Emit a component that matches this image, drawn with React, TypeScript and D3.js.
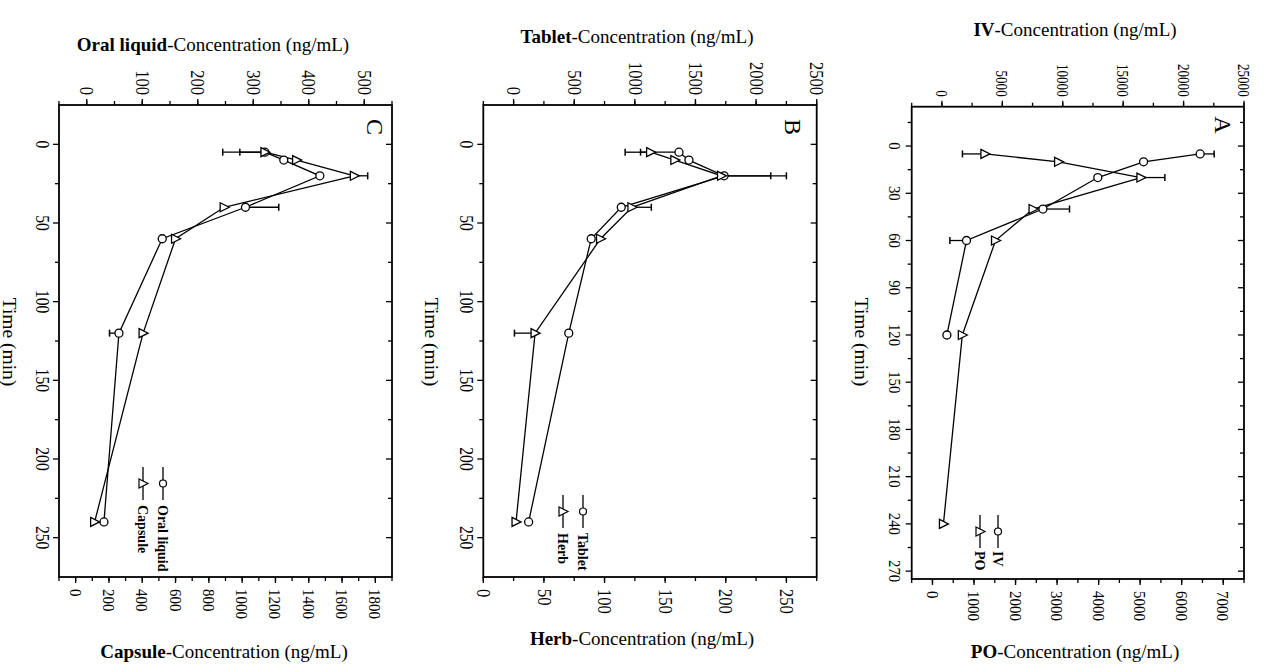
import React from 'react';
import * as d3 from 'd3';

// sampling times (min)
const times = [5, 10, 20, 40, 60, 120, 240];
const timesIV = [5, 10, 20, 40, 60, 120];

// panel C: oral liquid (top axis) vs capsule (bottom axis)
const oralLiquid = [321, 355, 420, 286, 136, 58, 31];
const oralLiquidErr = [-76, 0, 0, 60, 0, -17, 0];
const capsule = [1137, 1327, 1674, 892, 600, 405, 114];
const capsuleErr = [-151, 0, 80, 0, 0, 0, 0];

// panel B: tablet (top axis) vs herb (bottom axis)
const tablet = [1364, 1446, 1736, 888, 640, 455, 124];
const tabletErr = [-317, 0, 385, 0, 0, 0, 0];
const herb = [138, 158, 196.5, 122.6, 96.7, 42.7, 27];
const herbErr = [-21, 0, 53.5, 16, 0, -17, 0];

// panel A: IV (top axis) vs PO (bottom axis)
const iv = [21370, 16690, 12900, 8360, 2035, 412];
const ivErr = [1160, 0, 0, 2200, -1375, 0];
const po = [1262, 3036, 5019, 2422, 1518, 719, 264];
const poErr = [-540, 0, 576, 0, 0, 0, 0];

const FONT = '"Liberation Serif", "Times New Roman", serif';

const RotText = ({ x, y, children, anchor = 'middle', size = 17, sx = 1, weight = 'normal' }: any) => (
  <g transform={`translate(${x},${y}) rotate(90) scale(${sx},1)`}>
    <text textAnchor={anchor} dy=".35em" fontSize={size} fontWeight={weight}>{children}</text>
  </g>
);

const triPath = 'M-4,-4.5L5,0L-4,4.5Z';
const triUp = 'M-4.5,4L0,-5L4.5,4Z';

function Panel(p: any) {
  const { box, letter, yDomain, yMajor, yMinor, top, bot, series, legend, titles } = p;
  const y = d3.scaleLinear().domain(yDomain).range([box.y0, box.y1]);
  const xTop = d3.scaleLinear().domain(top.domain).range([box.x0, box.x1]);
  const xBot = d3.scaleLinear().domain(bot.domain).range([box.x0, box.x1]);
  const scaleOf = (s: any) => (s.axis === 'top' ? xTop : xBot);
  const yTicks = d3
    .range(Math.ceil(yDomain[0] / yMinor) * yMinor, yDomain[1] + 1e-9, yMinor)
    .filter((t) => t > yDomain[0] && t < yDomain[1]);

  return (
    <g>
      {/* top axis */}
      {d3.range(top.domain[0], top.domain[1] + 1e-9, top.minor).map((v) => (
        <line key={'tm' + v} x1={xTop(v)} x2={xTop(v)} y1={box.y0} y2={box.y0 - 4} stroke="#000" strokeWidth={1.3} />
      ))}
      {d3.range(0, top.domain[1] + 1e-9, top.major).map((v) => (
        <g key={'tM' + v}>
          <line x1={xTop(v)} x2={xTop(v)} y1={box.y0} y2={box.y0 - 6} stroke="#000" strokeWidth={1.3} />
          <RotText x={xTop(v)} y={box.y0 - 10} anchor="end" size={top.size} sx={top.sx}>{v}</RotText>
        </g>
      ))}
      {/* bottom axis */}
      {d3.range(bot.domain[0], bot.domain[1] + 1e-9, bot.minor).map((v) => (
        <line key={'bm' + v} x1={xBot(v)} x2={xBot(v)} y1={box.y1} y2={box.y1 + 4} stroke="#000" strokeWidth={1.3} />
      ))}
      {d3.range(0, bot.domain[1] + 1e-9, bot.major).map((v) => (
        <g key={'bM' + v}>
          <line x1={xBot(v)} x2={xBot(v)} y1={box.y1} y2={box.y1 + 6} stroke="#000" strokeWidth={1.3} />
          <RotText x={xBot(v)} y={box.y1 + 12} anchor="start" size={bot.size} sx={bot.sx}>{v}</RotText>
        </g>
      ))}
      {/* time axis: outward ticks on the left, inward on the right */}
      {yTicks.map((t) => {
        const major = Math.abs(t % yMajor) < 1e-9;
        const len = major ? 6 : 4;
        return (
          <g key={'y' + t}>
            <line x1={box.x0} x2={box.x0 - len} y1={y(t)} y2={y(t)} stroke="#000" strokeWidth={1.3} />
            <line x1={box.x1} x2={box.x1 - len} y1={y(t)} y2={y(t)} stroke="#000" strokeWidth={1.3} />
            {major && t >= 0 && (
              <RotText x={box.x0 - 17} y={y(t)} size={p.ySize} sx={p.ySx}>{t}</RotText>
            )}
          </g>
        );
      })}
      <rect x={box.x0} y={box.y0} width={box.x1 - box.x0} height={box.y1 - box.y0} fill="none" stroke="#000" strokeWidth={1.8} />

      {/* series */}
      {series.map((s: any, si: number) => {
        const xs = scaleOf(s);
        const pts = s.t.map((t: number, i: number) => [xs(s.v[i]), y(t)]);
        return (
          <g key={'s' + si}>
            <path d={d3.line()(pts as any) || ''} fill="none" stroke="#000" strokeWidth={1.3} />
            {s.t.map((t: number, i: number) =>
              s.err[i] !== 0 ? (
                <g key={'e' + i}>
                  <line x1={xs(s.v[i])} x2={xs(s.v[i] + s.err[i])} y1={y(t)} y2={y(t)} stroke="#000" strokeWidth={1.3} />
                  <line x1={xs(s.v[i] + s.err[i])} x2={xs(s.v[i] + s.err[i])} y1={y(t) - 3.5} y2={y(t) + 3.5} stroke="#000" strokeWidth={1.5} />
                </g>
              ) : null
            )}
          </g>
        );
      })}
      {series.map((s: any, si: number) => {
        const xs = scaleOf(s);
        return (
          <g key={'m' + si}>
            {s.t.map((t: number, i: number) =>
              s.shape === 'circle' ? (
                <circle key={i} cx={xs(s.v[i])} cy={y(t)} r={4} fill="#fff" stroke="#000" strokeWidth={1.3} />
              ) : (
                <path key={i} d={triPath} transform={`translate(${xs(s.v[i])},${y(t)})`} fill="#fff" stroke="#000" strokeWidth={1.3} />
              )
            )}
          </g>
        );
      })}

      {/* legend, rotated like the rest of the plot */}
      {series.map((s: any, si: number) => (
        <g key={'lg' + si} transform={`translate(${legend.xs[si]},${legend.y}) rotate(90)`}>
          <line x1={0} x2={33} y1={0} y2={0} stroke="#000" strokeWidth={1.3} />
          {s.shape === 'circle' ? (
            <circle cx={16.5} cy={0} r={3.5} fill="#fff" stroke="#000" strokeWidth={1.2} />
          ) : (
            <path d={triUp} transform="translate(16.5,0)" fill="#fff" stroke="#000" strokeWidth={1.2} />
          )}
          <text x={legend.gap} dy=".35em" fontSize={14} fontWeight="bold">{s.name}</text>
        </g>
      ))}

      <RotText x={letter.x} y={letter.y} size={24}>{letter.text}</RotText>
      <RotText x={p.timeX} y={342} size={19.5}>Time (min)</RotText>

      <text x={titles.topX} y={titles.topY} textAnchor="middle" fontSize={19}>
        <tspan fontWeight="bold">{titles.topBold}</tspan>
        <tspan>-Concentration (ng/mL)</tspan>
      </text>
      <text x={titles.botX} y={titles.botY} textAnchor="middle" fontSize={19}>
        <tspan fontWeight="bold">{titles.botBold}</tspan>
        <tspan>-Concentration (ng/mL)</tspan>
      </text>
    </g>
  );
}

export default function App() {
  const panels = [
    {
      box: { x0: 59, x1: 392, y0: 105, y1: 577 },
      letter: { x: 375, y: 127, text: 'C' },
      yDomain: [-25, 275], yMajor: 50, yMinor: 25, ySize: 18, ySx: 0.87,
      timeX: 10,
      top: { domain: [-50, 550], major: 100, minor: 50, size: 18, sx: 0.92 },
      bot: { domain: [-100, 1900], major: 200, minor: 100, size: 17, sx: 0.88 },
      series: [
        { name: 'Oral liquid', t: times, v: oralLiquid, err: oralLiquidErr, shape: 'circle', axis: 'top' },
        { name: 'Capsule', t: times, v: capsule, err: capsuleErr, shape: 'tri', axis: 'bottom' },
      ],
      legend: { xs: [163, 143], y: 467, gap: 38 },
      titles: { topX: 213, topY: 51, topBold: 'Oral liquid', botX: 224, botY: 658, botBold: 'Capsule' },
    },
    {
      box: { x0: 483.3, x1: 816.7, y0: 105, y1: 577 },
      letter: { x: 793, y: 127, text: 'B' },
      yDomain: [-25, 275], yMajor: 50, yMinor: 25, ySize: 18, ySx: 0.87,
      timeX: 432,
      top: { domain: [-250, 2500], major: 500, minor: 250, size: 18, sx: 0.92 },
      bot: { domain: [0, 275], major: 50, minor: 25, size: 18, sx: 0.92 },
      series: [
        { name: 'Tablet', t: times, v: tablet, err: tabletErr, shape: 'circle', axis: 'top' },
        { name: 'Herb', t: times, v: herb, err: herbErr, shape: 'tri', axis: 'bottom' },
      ],
      legend: { xs: [583, 563], y: 495, gap: 38 },
      titles: { topX: 637, topY: 43, topBold: 'Tablet', botX: 642, botY: 645, botBold: 'Herb' },
    },
    {
      box: { x0: 911.7, x1: 1244, y0: 106.7, y1: 579 },
      letter: { x: 1223, y: 125, text: 'A' },
      yDomain: [-25, 275], yMajor: 30, yMinor: 15, ySize: 17, ySx: 0.87,
      timeX: 862,
      top: { domain: [-2500, 25000], major: 5000, minor: 2500, size: 17, sx: 0.77 },
      bot: { domain: [-500, 7500], major: 1000, minor: 500, size: 17, sx: 0.88 },
      series: [
        { name: 'IV', t: timesIV, v: iv, err: ivErr, shape: 'circle', axis: 'top' },
        { name: 'PO', t: times, v: po, err: poErr, shape: 'tri', axis: 'bottom' },
      ],
      legend: { xs: [998, 980], y: 515, gap: 36 },
      titles: { topX: 1075, topY: 36, topBold: 'IV', botX: 1075, botY: 658, botBold: 'PO' },
    },
  ];

  return (
    <svg
      width={1264}
      height={664}
      style={{ position: 'absolute', left: 0, top: 0, background: '#fff' }}
      fontFamily={FONT}
    >
      <rect width={1264} height={664} fill="#fff" />
      {panels.map((p, i) => (
        <Panel key={i} {...p} />
      ))}
    </svg>
  );
}
